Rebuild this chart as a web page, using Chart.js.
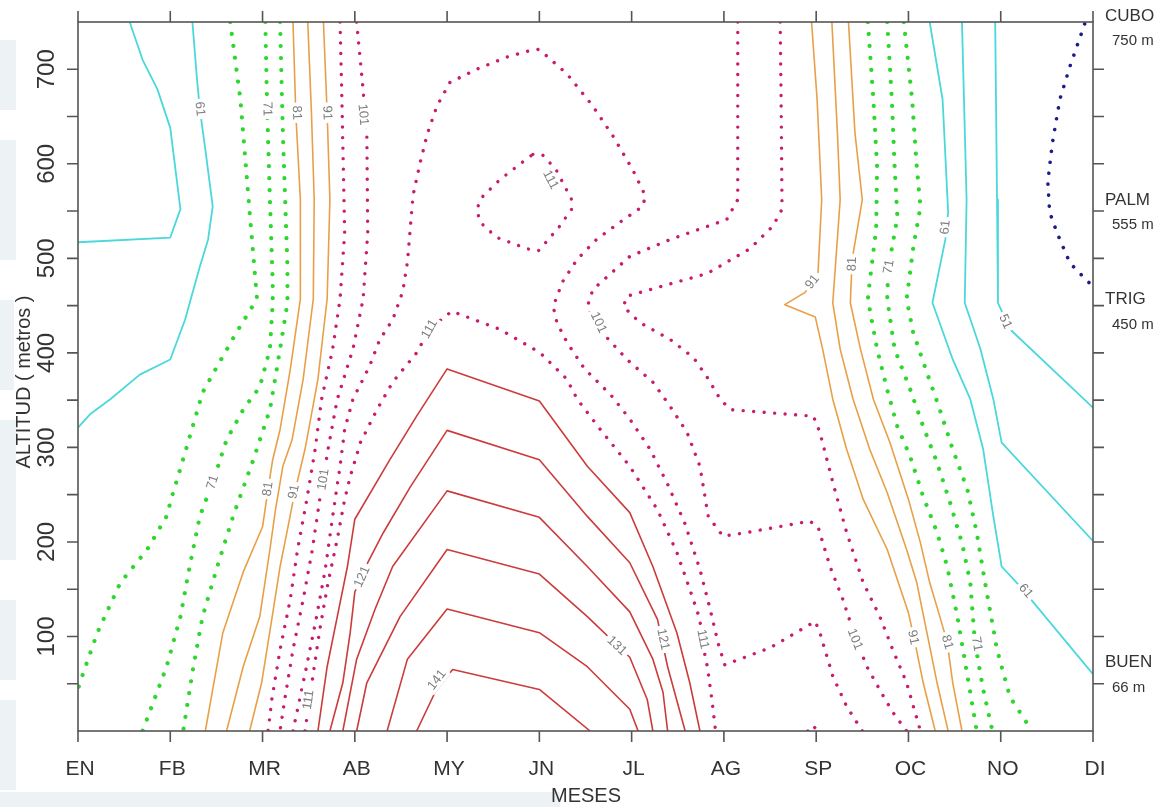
<!DOCTYPE html>
<html><head><meta charset="utf-8">
<script src="https://cdn.jsdelivr.net/npm/chart.js@4.4.1/dist/chart.umd.min.js"></script>
<style>html,body{margin:0;padding:0;background:#fff}#wrap{width:1169px;height:807px;position:relative}</style>
</head><body><div id="wrap"><canvas id="c" width="1169" height="807"></canvas></div>
<script>
// ---- categories / ticks ----
const months = ['EN','FB','MR','AB','MY','JN','JL','AG','SP','OC','NO','DI'];
const altLabels = [100,200,300,400,500,600,700];
const altMinor = [50,100,150,200,250,300,350,400,450,500,550,600,650,700];
const siteNames = ['CUBO','PALM','TRIG','BUEN'];
const siteAlt = [750,555,450,66];

// ---- contour lines: [month index, altitude m] ----
const C46 = [[10.91,748],[10.75,703],[10.64,668],[10.56,622],[10.51,581],[10.53,549],[10.61,527],[10.75,495],[11,470]];
const C51 = [[9.94,750],[9.96,562],[9.97,453],[10.10,425],[11,342]];
const C56a = [[0.56,750],[0.70,710],[0.86,679],[1.00,638],[1.11,552],[1.00,522],[0,517]];
const C56b = [[9.58,750],[9.63,562],[9.61,453],[9.78,404],[9.92,351],[10.01,305],[11,201]];
const C61a = [[1.24,750],[1.29,689],[1.32,658],[1.38,615],[1.46,555],[1.41,520],[1.32,491],[1.16,435],[1.00,393],[0.67,377],[0.35,351],[0.13,335],[0,321]];
const C61b = [[9.23,750],[9.37,668],[9.43,549],[9.40,520],[9.26,453],[9.48,393],[9.67,351],[9.81,298],[9.92,227],[10.01,174],[10.21,153],[11,60]];
const C66a = [[1.65,750],[1.76,668],[1.86,549],[1.94,457],[1.72,422],[1.51,386],[1.35,358],[1.18,301],[1.03,252],[0.96,227],[0.75,192],[0.46,157],[0.21,104],[0.02,51],[0,44]];
const C66b = [[8.95,750],[9.04,668],[9.09,597],[9.13,555],[9.05,510],[8.98,457],[9.05,422],[9.20,379],[9.34,340],[9.48,298],[9.64,255],[9.74,210],[9.83,157],[9.96,86],[10.10,36],[10.28,9],[10.35,0]];
const C71a = [[2.03,750],[2.05,658],[2.08,562],[2.11,475],[2.11,453],[2.08,404],[1.97,364],[1.79,340],[1.61,308],[1.46,263],[1.32,227],[1.21,174],[1.11,121],[0.96,68],[0.70,0]];
const C71b = [[8.77,750],[8.82,668],[8.85,597],[8.88,544],[8.78,488],[8.77,457],[8.85,404],[9.02,361],[9.16,322],[9.31,284],[9.45,242],[9.58,199],[9.67,157],[9.72,94],[9.81,44],[9.91,0]];
const C76a = [[2.19,750],[2.22,633],[2.27,491],[2.27,453],[2.19,404],[2.08,340],[1.90,287],[1.68,227],[1.51,174],[1.35,121],[1.25,68],[1.14,0]];
const C76b = [[8.56,750],[8.62,668],[8.66,597],[8.65,531],[8.58,475],[8.56,457],[8.66,404],[8.77,361],[8.88,322],[9.02,290],[9.16,248],[9.31,210],[9.42,174],[9.53,121],[9.64,58],[9.74,0]];
const C81a = [[2.33,750],[2.36,654],[2.41,562],[2.41,457],[2.30,382],[2.19,319],[2.11,287],[2.06,256],[2.00,216],[1.79,168],[1.57,104],[1.38,0]];
const C81b = [[8.35,750],[8.42,633],[8.50,562],[8.39,499],[8.37,453],[8.48,404],[8.62,351],[8.80,305],[9.00,245],[9.13,199],[9.23,157],[9.34,121],[9.42,94],[9.48,51],[9.58,0]];
const C86a = [[2.49,750],[2.53,654],[2.56,562],[2.55,457],[2.44,372],[2.32,308],[2.22,280],[2.14,234],[2.08,192],[1.97,121],[1.79,68],[1.61,0]];
const C86b = [[8.17,750],[8.23,633],[8.26,562],[8.18,453],[8.26,404],[8.40,351],[8.58,298],[8.77,252],[8.98,192],[9.09,157],[9.20,104],[9.31,51],[9.43,0]];
const C91a = [[2.66,750],[2.70,654],[2.73,562],[2.70,457],[2.60,372],[2.46,298],[2.35,253],[2.27,213],[2.19,174],[2.10,118],[1.99,51],[1.86,0]];
const C91b = [[7.95,750],[8.01,668],[8.06,562],[8.02,485],[7.97,475],[7.88,464],[7.66,451],[7.99,438],[8.07,404],[8.18,351],[8.33,298],[8.51,245],[8.77,192],[9.00,125],[9.07,94],[9.16,51],[9.29,0]];
const C96a = [[2.84,750],[2.86,668],[2.89,527],[2.84,457],[2.76,404],[2.64,351],[2.57,298],[2.48,245],[2.38,192],[2.30,139],[2.19,86],[2.10,33],[2.06,0]];
const C96b = [[7.61,750],[7.62,668],[7.63,552],[7.53,534],[7.28,510],[6.82,484],[6.31,470],[5.95,460],[5.91,449],[6.09,432],[6.42,414],[6.67,395],[6.82,374],[6.96,351],[7.07,340],[7.97,333],[8.04,316],[8.18,263],[8.33,210],[8.51,157],[8.69,121],[8.83,86],[8.98,51],[9.13,0]];
const C101a = [[3.02,750],[3.08,689],[3.13,633],[3.14,527],[3.09,457],[2.98,404],[2.81,351],[2.71,298],[2.62,245],[2.54,192],[2.44,139],[2.33,86],[2.24,33],[2.19,0]];
const C101b = [[7.15,750],[7.15,562],[7.03,541],[6.42,520],[5.98,502],[5.58,467],[5.52,449],[5.62,428],[5.95,393],[6.23,369],[6.42,343],[6.60,316],[6.74,280],[6.83,227],[6.99,206],[7.25,210],[7.93,222],[8.02,216],[8.15,174],[8.29,139],[8.42,100],[8.55,68],[8.75,33],[8.85,17],[8.98,0]];
const C106 = [[2.33,0],[2.47,65],[2.58,118],[2.68,171],[2.76,227],[2.84,280],[2.89,319],[2.98,351],[3.16,386],[3.27,414],[3.41,435],[3.52,465],[3.57,496],[3.60,531],[3.63,566],[3.71,602],[3.79,633],[3.89,661],[4.03,686],[4.32,700],[4.65,713],[4.87,719],[4.99,721],[5.08,714],[5.30,695],[5.58,661],[5.80,629],[6.01,594],[6.15,566],[6.12,555],[5.87,538],[5.62,520],[5.41,499],[5.25,475],[5.15,449],[5.19,432],[5.30,411],[5.49,383],[5.77,356],[5.98,330],[6.20,298],[6.39,261],[6.58,219],[6.74,171],[6.85,129],[6.94,92],[7.01,70],[7.50,88],[7.99,116],[8.04,104],[8.18,58],[8.33,26],[8.50,0]];
const C111a = [[2.46,0],[2.54,54],[2.62,107],[2.71,157],[2.81,203],[2.89,245],[2.95,269],[3.06,305],[3.24,340],[3.41,369],[3.67,400],[3.81,425],[4.05,444],[4.57,425],[5.01,400],[5.30,372],[5.41,351],[5.66,319],[5.98,280],[6.28,234],[6.49,189],[6.63,150],[6.74,118],[6.76,97],[6.82,68],[6.87,33],[6.91,0]];
const C111b = [[4.93,610],[5.03,610],[5.18,594],[5.35,562],[5.35,552],[5.22,534],[5.08,518],[4.99,508],[4.87,510],[4.54,522],[4.36,538],[4.32,552],[4.39,566],[4.57,583],[4.82,602],[4.93,610]];
const C111c = [[7.91,0],[7.96,6],[8.02,0]];
const C116 = [[2.60,0],[2.70,68],[2.81,121],[2.92,174],[3.00,224],[3.38,287],[3.67,333],[4.00,383],[5.00,349],[5.52,280],[5.98,231],[6.23,174],[6.49,104],[6.63,51],[6.74,0]];
const C121 = [[2.73,0],[2.87,51],[2.95,104],[3.00,147],[3.14,178],[3.31,210],[3.60,258],[4.00,318],[5.00,287],[5.52,227],[5.98,178],[6.28,118],[6.39,68],[6.58,0]];
const C126 = [[2.87,0],[3.02,76],[3.22,129],[3.41,174],[4.00,254],[5.00,226],[5.52,174],[5.98,126],[6.23,76],[6.34,41],[6.39,0]];
const C131 = [[3.02,0],[3.13,51],[3.49,121],[4.00,192],[5.00,166],[5.52,121],[5.98,78],[6.17,33],[6.23,0]];
const C136 = [[3.35,0],[3.57,76],[4.00,129],[5.00,104],[5.52,68],[5.98,23],[6.07,0]];
const C141 = [[3.67,0],[3.87,41],[4.06,65],[5.00,44],[5.55,0]];

const contourLevels = [46,51,56,56,61,61,66,66,71,71,76,76,81,81,86,86,91,91,96,96,101,101,106,111,111,111,116,121,126,131,136,141];
const contourLines = [C46,C51,C56a,C56b,C61a,C61b,C66a,C66b,C71a,C71b,C76a,C76b,C81a,C81b,C86a,C86b,C91a,C91b,C96a,C96b,C101a,C101b,C106,C111a,C111b,C111c,C116,C121,C126,C131,C136,C141];

// label text, line, [month, altitude]
const labelTexts = ['61','71','81','91','101','71','81','91','101','111','121','141','111','111','101','131','121','111','91','81','71','61','51','101','91','81','71','61'];
const labelLines = [C61a,C71a,C81a,C91a,C101a,C71a,C81a,C91a,C101a,C111a,C121,C141,C111a,C111b,C101b,C131,C121,C111a,C91b,C81b,C71b,C61b,C51,C101b,C91b,C81b,C71b,C61b];
const labelPos = [[1.32,658],[2.05,658],[2.37,654],[2.70,654],[3.09,652],[1.46,263],[2.06,256],[2.34,253],[2.66,266],[2.50,33],[3.08,163],[3.89,54],[3.81,425],[5.12,583],[5.64,432],[5.84,90],[6.34,97],[6.77,97],[7.96,475],[8.39,494],[8.79,491],[9.40,533],[10.05,433],[8.42,97],[9.05,99],[9.42,94],[9.74,92],[10.27,148]];

function styleFor(level){
  if(level<=46) return {c:'#1c1c8a',dot:true,w:3.6,gap:11};
  if(level<=61) return {c:'#4ad8dc',dot:false,w:1.8};
  if(level<=76) return {c:'#2ed62e',dot:true,w:4.2,gap:12};
  if(level<=91) return {c:'#e8a048',dot:false,w:1.6};
  if(level<=111) return {c:'#c81d6e',dot:true,w:3.4,gap:10.5};
  return {c:'#cc3b3b',dot:false,w:1.6};
}

const datasets = contourLines.map((pts,i)=>{
  const s = styleFor(contourLevels[i]);
  return {
    data: pts.map(p=>({x:p[0],y:p[1]})),
    showLine:true, pointRadius:0, tension:0,
    borderColor:s.c, borderWidth:s.w,
    borderDash: s.dot ? [0.01, s.gap] : [],
    borderCapStyle: s.dot ? 'round' : 'butt',
    borderJoinStyle:'round', fill:false
  };
});

const FONT = '"Liberation Sans", Arial, sans-serif';

const decor = {
  id:'decor',
  beforeDraw(chart){
    const ctx = chart.ctx;
    ctx.save();
    ctx.fillStyle = '#edf3f4';
    [[0,40,16,70],[0,140,16,120],[0,300,14,90],[0,420,16,140],[0,600,16,80],[0,700,16,90],[0,792,560,15]].forEach(r=>ctx.fillRect(r[0],r[1],r[2],r[3]));
    ctx.restore();
  },
  afterDatasetsDraw(chart){
    const ctx = chart.ctx, xs = chart.scales.x, ys = chart.scales.y;
    ctx.save();
    ctx.font = '13px ' + FONT;
    ctx.textAlign='center'; ctx.textBaseline='middle';
    labelTexts.forEach((t,i)=>{
      const px = xs.getPixelForValue(labelPos[i][0]), py = ys.getPixelForValue(labelPos[i][1]);
      const line = labelLines[i];
      let best=1e9, ang=0;
      for(let k=0;k<line.length-1;k++){
        const ax=xs.getPixelForValue(line[k][0]), ay=ys.getPixelForValue(line[k][1]);
        const bx=xs.getPixelForValue(line[k+1][0]), by=ys.getPixelForValue(line[k+1][1]);
        const dx=bx-ax, dy=by-ay, L=dx*dx+dy*dy||1;
        let u=((px-ax)*dx+(py-ay)*dy)/L; u=Math.max(0,Math.min(1,u));
        const d=Math.hypot(ax+u*dx-px, ay+u*dy-py);
        if(d<best){best=d; ang=Math.atan2(dy,dx);}
      }
      if(ang>Math.PI/2) ang-=Math.PI;
      if(ang<-Math.PI/2) ang+=Math.PI;
      ctx.save();
      ctx.translate(px,py); ctx.rotate(ang);
      const w = ctx.measureText(t).width;
      ctx.fillStyle='#fff'; ctx.fillRect(-w/2-3,-7,w+6,14);
      ctx.fillStyle='#7d7d7d'; ctx.fillText(t,0,0);
      ctx.restore();
    });
    ctx.restore();
  },
  afterDraw(chart){
    const ctx = chart.ctx, xs = chart.scales.x, ys = chart.scales.y;
    const a = chart.chartArea;
    ctx.save();
    ctx.strokeStyle = '#555'; ctx.lineWidth = 1.6;
    ctx.strokeRect(a.left, a.top, a.right-a.left, a.bottom-a.top);
    ctx.beginPath();
    months.forEach((m,i)=>{
      const x = xs.getPixelForValue(i);
      ctx.moveTo(x,a.bottom); ctx.lineTo(x,a.bottom+11);
      ctx.moveTo(x,a.top); ctx.lineTo(x,a.top-11);
    });
    altMinor.forEach(v=>{
      const y = ys.getPixelForValue(v);
      ctx.moveTo(a.left-11,y); ctx.lineTo(a.left,y);
      ctx.moveTo(a.right,y); ctx.lineTo(a.right+11,y);
    });
    ctx.stroke();
    ctx.fillStyle = '#333';
    ctx.font = '21px ' + FONT;
    ctx.textAlign='center'; ctx.textBaseline='middle';
    months.forEach((m,i)=>{ ctx.fillText(m, xs.getPixelForValue(i)+2, a.bottom+38); });
    ctx.font = '24px ' + FONT;
    altLabels.forEach(v=>{
      const y = ys.getPixelForValue(v);
      ctx.save(); ctx.translate(a.left-31, y); ctx.rotate(-Math.PI/2);
      ctx.fillText(String(v),0,0); ctx.restore();
    });
    ctx.font = '20px ' + FONT;
    ctx.fillText('MESES', 586, a.bottom+65);
    ctx.save(); ctx.translate(24, 382); ctx.rotate(-Math.PI/2);
    ctx.font = '20px ' + FONT;
    ctx.fillText('ALTITUD ( metros )',0,0); ctx.restore();
    ctx.textAlign='left';
    siteNames.forEach((n,i)=>{
      const y = ys.getPixelForValue(siteAlt[i]);
      ctx.font = '17px ' + FONT;
      ctx.fillText(n, a.right+12, y-6);
      ctx.font = '15px ' + FONT;
      ctx.fillText(siteAlt[i]+' m', a.right+19, y+19);
    });
    ctx.restore();
  }
};

new Chart(document.getElementById('c'), {
  type:'scatter',
  data:{datasets},
  options:{
    responsive:false, animation:false, devicePixelRatio:1,
    layout:{padding:{left:78,right:76,top:22,bottom:76}},
    plugins:{legend:{display:false},tooltip:{enabled:false}},
    scales:{
      x:{type:'linear',min:0,max:11,display:false},
      y:{type:'linear',min:0,max:750,display:false}
    }
  },
  plugins:[decor]
});
</script></body></html>
